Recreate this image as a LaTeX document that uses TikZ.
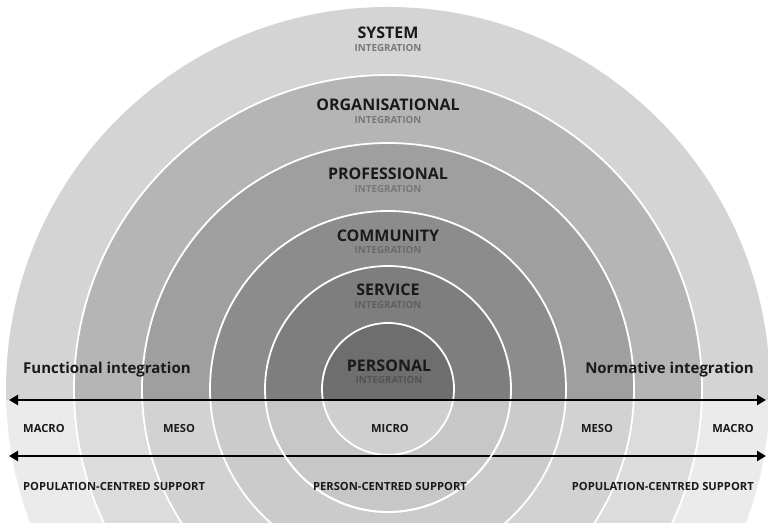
\documentclass[tikz,border=0pt]{standalone}
\usepackage{fontspec}
\setmainfont{Open Sans}
\usetikzlibrary{arrows.meta}
\definecolor{uSys}{HTML}{D4D4D4}
\definecolor{uOrg}{HTML}{B5B5B5}
\definecolor{uPro}{HTML}{9F9F9F}
\definecolor{uCom}{HTML}{8C8C8C}
\definecolor{uSer}{HTML}{7E7E7E}
\definecolor{uPer}{HTML}{6E6E6E}
\definecolor{lSys}{HTML}{EBEBEB}
\definecolor{lOrg}{HTML}{DCDCDC}
\definecolor{lPro}{HTML}{D2D2D2}
\definecolor{lCom}{HTML}{CBCBCB}
\definecolor{lSer}{HTML}{C7C7C7}
\definecolor{lPer}{HTML}{CFCFCF}
\definecolor{txt}{HTML}{1A1A1A}
\definecolor{sub}{HTML}{777777}
\tikzset{
  ringlabel/.style={font=\bfseries\fontsize{16}{18}\selectfont, text=txt, inner sep=0pt},
  sublabel/.style={font=\bfseries\fontsize{9.8}{11}\selectfont, text=sub, inner sep=0pt},
  sidelabel/.style={font=\bfseries\fontsize{15}{17}\selectfont, text=txt, inner sep=0pt},
  smalllabel/.style={font=\bfseries\fontsize{11.2}{13}\selectfont, text=txt, inner sep=0pt},
  ringline/.style={draw=white, line width=1.8pt},
  biarrow/.style={line width=2.6pt, black, {Triangle[length=9pt,width=10pt]}-{Triangle[length=9pt,width=10pt]}}
}
\begin{document}
\begin{tikzpicture}[x=1pt,y=-1pt]
\useasboundingbox (0,0) rectangle (768,526);
\fill[white] (0,0) rectangle (768,526);
\coordinate (O) at (388,389);
% upper half (dark)
\begin{scope}
  \clip (0,0) rectangle (768,400);
  \fill[uSys] (O) circle[radius=382pt];
  \fill[uOrg] (O) circle[radius=314pt];
  \fill[uPro] (O) circle[radius=246pt];
  \fill[uCom] (O) circle[radius=178pt];
  \fill[uSer] (O) circle[radius=123pt];
  \fill[uPer] (O) circle[radius=66pt];
\end{scope}
% lower half (light)
\begin{scope}
  \clip (0,400) rectangle (768,522);
  \fill[lSys] (O) circle[radius=382pt];
  \fill[lOrg] (O) circle[radius=314pt];
  \fill[lPro] (O) circle[radius=246pt];
  \fill[lCom] (O) circle[radius=178pt];
  \fill[lSer] (O) circle[radius=123pt];
  \fill[lPer] (O) circle[radius=66pt];
\end{scope}
% white ring borders
\begin{scope}
  \clip (0,0) rectangle (768,522);
  \foreach \r in {66,123,178,246,314} {
    \draw[ringline] (O) circle[radius=\r pt];
  }
\end{scope}
% arrows
\coordinate (a1l) at (9,400);
\coordinate (a1r) at (766,400);
\coordinate (a2l) at (9,456);
\coordinate (a2r) at (766,456);
\draw[biarrow] (a1l) -- (a1r);
\draw[biarrow] (a2l) -- (a2r);
% service ring passes over the lower arrow
\begin{scope}
  \clip (0,430) rectangle (768,522);
  \draw[ringline] (O) circle[radius=123pt];
\end{scope}
% ring labels
\node[ringlabel] (sys) at (388,33) {SYSTEM};
\node[sublabel] (sysi) at (388,48) {INTEGRATION};
\node[ringlabel] (org) at (388,105) {ORGANISATIONAL};
\node[sublabel] (orgi) at (388,120) {INTEGRATION};
\node[ringlabel] (pro) at (388,174) {PROFESSIONAL};
\node[sublabel] (proi) at (388,189) {INTEGRATION};
\node[ringlabel] (com) at (388,236) {COMMUNITY};
\node[sublabel, text=sub!90!black] (comi) at (388,250) {INTEGRATION};
\node[ringlabel] (ser) at (388,290) {SERVICE};
\node[sublabel, text=sub!80!black] (seri) at (388,305) {INTEGRATION};
\node[ringlabel] (per) at (389,366) {PERSONAL};
\node[sublabel, text=sub!70!black] (peri) at (389,380) {INTEGRATION};
% side labels
\node[sidelabel, anchor=west] (func) at (23,370) {Functional integration};
\node[sidelabel, anchor=east] (norm) at (754,370) {Normative integration};
% scale labels
\node[smalllabel, anchor=west] (macl) at (23,428) {MACRO};
\node[smalllabel] (mesl) at (179,428) {MESO};
\node[smalllabel] (mic) at (390,428) {MICRO};
\node[smalllabel] (mesr) at (597,428) {MESO};
\node[smalllabel, anchor=east] (macr) at (754,428) {MACRO};
\node[smalllabel, anchor=west] (popl) at (23,486) {POPULATION-CENTRED SUPPORT};
\node[smalllabel] (pers) at (390,486) {PERSON-CENTRED SUPPORT};
\node[smalllabel, anchor=east] (popr) at (754,486) {POPULATION-CENTRED SUPPORT};
\end{tikzpicture}
\end{document}
